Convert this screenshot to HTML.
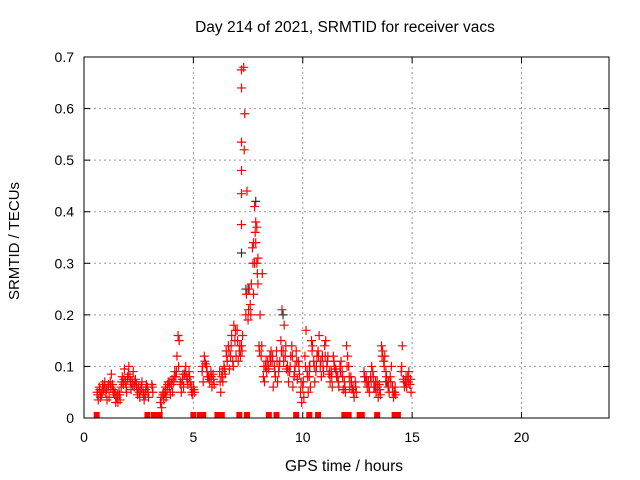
<!DOCTYPE html>
<html><head><meta charset="utf-8"><style>
body{margin:0;background:#fff;}
svg{display:block;font-family:"Liberation Sans",sans-serif;font-size:14px;}
</style></head><body>
<svg id="chart" width="640" height="480">
<text x="345" y="32" text-anchor="middle" font-size="15.5">Day 214 of 2021, SRMTID for receiver vacs</text>
<text x="344" y="471" text-anchor="middle" font-size="15.5">GPS time / hours</text>
<text transform="translate(19,241) rotate(-90)" text-anchor="middle" font-size="15">SRMTID / TECUs</text>
<g id="grid"></g><g id="ticks"></g><g id="marks"></g>
<rect x="84" y="57" width="525" height="361" fill="none" stroke="#000" stroke-width="1"/>
</svg>
<script>
const xTicks=[0,5,10,15,20];
const yTicks=[0,0.1,0.2,0.3,0.4,0.5,0.6,0.7];
const yTickLabels=["0","0.1","0.2","0.3","0.4","0.5","0.6","0.7"];
const valuesA=[.05,.06,.045,.055,
.05,.06,.07,.065,.045,.04,.05,.06,.065,.07,
.075,.08,.07,.06,.065,.06,.055,.05,.045,.06,
null,.065,null,null,null,.03,.045,.05,.055,.06,
.065,.07,.08,.16,.07,.075,.085,.08,.09,.06,
.06,null,null,null,.09,.12,.1,.08,.09,.085,
null,null,.09,.08,.1,.13,.14,.12,.11,.15,
.17,.13,.14,.68,.2,.19,.22,.33,.41,.3,
.14,.12,.08,.1,.11,.12,.11,.1,.13,.09,
.15,.13,.12,.1,.09,.14,.08,.13,.11,.05,
.06,.12,.09,.08,.15,.11,.09,.13,.1,.12,
.14,.1,.085,.09,.12,.095,.08,.1,.09,.07,
.14,.1,.08,.06,.07,null,null,null,.09,.08,
.07,.08,.09,.06,.07,.065,.14,.11,.09,.06,
.08,.06,.05,null,null,.09,.075,.07,.08,.065];
const valuesB=[.035,.04,.065,.07,
.035,.04,.085,.05,.03,.03,.035,.08,.095,.05,
.1,.055,.09,.075,.045,.04,.07,.035,.065,.04,
null,.05,null,null,null,.02,.035,.04,.07,.045,
.05,.09,.12,.15,.05,.06,.1,.065,.07,.045,
.05,null,null,null,.07,.105,.08,.07,.06,.065,
null,null,.05,.07,.085,.11,.095,.16,.18,.12,
.11,.12,.16,.59,.44,.25,.26,.24,.34,.26,
.2,.28,.07,.09,.095,.13,.06,.08,.07,.11,
.21,.18,.095,.07,.12,.06,.1,.075,.085,.03,
.04,.17,.05,.06,.14,.07,.12,.16,.08,.09,
.15,.12,.07,.06,.1,.08,.06,.11,.055,.05,
.12,.06,.055,.04,.05,null,null,null,.07,.06,
.05,.1,.06,.05,.04,.045,.13,.12,.07,.05,
.1,.04,.045,null,null,.14,.06,.06,.09,.05];
const valuesC=[.045,.055,.05,.06,
.055,.065,.06,.055,.05,.045,.045,.07,.075,.06,
.085,.07,.065,.07,.055,.05,.06,.045,.055,.05,
null,.06,null,null,null,.04,.05,.06,.065,.07,
.075,.08,.09,.1,.065,.085,.09,.075,.08,.05,
.055,null,null,null,.1,.11,.09,.075,.08,.075,
null,null,.07,.09,.095,.12,.13,.14,.1,.17,
.15,.14,.13,.52,.24,.21,.2,.3,.36,.28,
.13,.14,.1,.11,.1,.11,.12,.09,.11,.1,
.13,.11,.14,.09,.1,.12,.09,.11,.1,.07,
.07,.1,.08,.1,.13,.1,.1,.12,.11,.1,
.12,.11,.09,.08,.11,.09,.07,.09,.08,.06,
.1,.08,.07,.05,.06,null,null,null,.08,.07,
.06,.07,.08,.07,.06,.055,.12,.1,.08,.07,
.07,.05,.06,null,null,.1,.07,.08,.07,.075];
const startTime=0.6, stepTime=0.1;
const extraTimes=[7.2,7.2,7.2,7.2,7.2,7.2,7.85,7.9,7.95,7.75,7.8];
const extraValues=[.675,.64,.535,.48,.435,.375,.38,.37,.31,.34,.3];
const blackTimes=[7.85,7.2,7.5,9.1,10.3,10.9,2.0,13.8,7.4];
const blackValues=[.42,.32,.25,.2,.1,.12,.08,.07,.25];
const zeroTimes=[0.58,2.9,3.2,3.46,5.0,5.3,5.45,6.1,6.3,7.1,7.45,8.45,8.8,9.7,10.3,10.7,11.9,12.1,12.6,12.7,13.4,14.2,14.35];
const X0=84,X1=609,Y0=418,Y1=57;
const xs=t=>X0+t/24*(X1-X0);
const ys=v=>Y0-v/0.7*(Y0-Y1);
const NS="http://www.w3.org/2000/svg";
function mk(tag,attrs,parent){const e=document.createElementNS(NS,tag);for(const k in attrs)e.setAttribute(k,attrs[k]);document.getElementById(parent).appendChild(e);return e;}
xTicks.forEach(t=>{
 const x=xs(t);
 if(t>0){const g=mk('line',{x1:x,x2:x,y1:Y1,y2:Y0,stroke:'#999','stroke-dasharray':'2,3'},'grid');
 
 }
 mk('line',{x1:x,x2:x,y1:Y0,y2:Y0-6,stroke:'#000'},'ticks');
 mk('line',{x1:x,x2:x,y1:Y1,y2:Y1+6,stroke:'#000'},'ticks');
 const l=mk('text',{x:x,y:Y0+24,'text-anchor':'middle'},'ticks');l.textContent=String(t);
 
 
});
yTicks.forEach((v,i)=>{
 const y=ys(v);
 if(v>0&&v<0.7){const g=mk('line',{x1:X0,x2:X1,y1:y,y2:y,stroke:'#999','stroke-dasharray':'2,3'},'grid');
 
 }
 mk('line',{x1:X0,x2:X0+6,y1:y,y2:y,stroke:'#000'},'ticks');
 mk('line',{x1:X1,x2:X1-6,y1:y,y2:y,stroke:'#000'},'ticks');
 const l=mk('text',{x:X0-10,y:y+5,'text-anchor':'end'},'ticks');l.textContent=yTickLabels[i];
 
 
});
function plus(t,v,color,name){
 const x=xs(t),y=ys(v);
 const p=mk('path',{d:`M${x-4.5},${y}H${x+4.5}M${x},${y-4.5}V${y+4.5}`,stroke:color,'stroke-width':1.2,fill:'none'},'marks');
 
 
}
blackTimes.forEach((t,i)=>plus(t,blackValues[i],'#333','black-point'));
valuesA.forEach((v,i)=>{if(v!==null)plus(startTime+i*stepTime,v,'#f00','srmtid-point');});
valuesB.forEach((v,i)=>{if(v!==null)plus(startTime+i*stepTime+0.05,v,'#f00','srmtid-point');});
valuesC.forEach((v,i)=>{if(v!==null)plus(startTime+i*stepTime+0.025,v,'#f00','srmtid-point');});
extraTimes.forEach((t,i)=>plus(t,extraValues[i],'#f00','srmtid-point'));
zeroTimes.forEach(t=>{
 const r=mk('rect',{x:xs(t)-3,y:Y0-6,width:6,height:6,fill:'#f00'},'marks');
 
 
});
</script>
</body></html>
